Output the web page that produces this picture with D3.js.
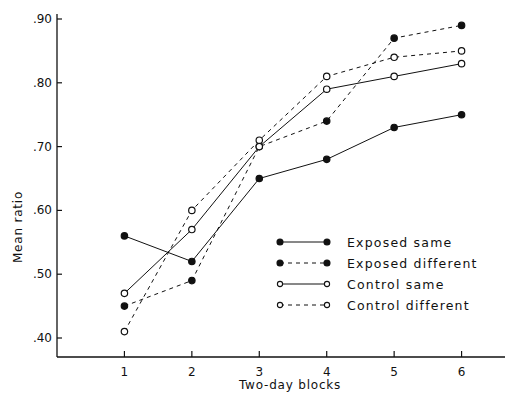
<!DOCTYPE html>
<head>
    <meta charset="utf-8">
    <title>Mean ratio by two-day blocks</title>
    <script src="https://d3js.org/d3.v7.min.js"></script>
    <style>
    body { margin: 0; background: #fff; }
    text { font-family: "DejaVu Sans", sans-serif; fill: #111; }
    </style>
</head>
<body>
<script>
var blocks = [1, 2, 3, 4, 5, 6];
var yTicks = [0.40, 0.50, 0.60, 0.70, 0.80, 0.90];
var exposedSame      = [0.56, 0.52, 0.65, 0.68, 0.73, 0.75];
var exposedDifferent = [0.45, 0.49, 0.70, 0.74, 0.87, 0.89];
var controlSame      = [0.47, 0.57, 0.70, 0.79, 0.81, 0.83];
var controlDifferent = [0.41, 0.60, 0.71, 0.81, 0.84, 0.85];
var seriesNames = ["Exposed same", "Exposed different", "Control same", "Control different"];

var series = [
    {name: seriesNames[0], values: exposedSame, filled: true, dashed: false},
    {name: seriesNames[1], values: exposedDifferent, filled: true, dashed: true},
    {name: seriesNames[2], values: controlSame, filled: false, dashed: false},
    {name: seriesNames[3], values: controlDifferent, filled: false, dashed: true}
];

var width = 505, height = 394;
var ink = "#111";

var svg = d3.select("body").append("svg")
    .attr("width", width)
    .attr("height", height);

var x = d3.scaleLinear().domain([0, 7]).range([57, 529]);
var y = d3.scaleLinear().domain([0.9, 0.4]).range([19, 338]);
var baseY = 357;

// axes lines
svg.append("line")
    .attr("x1", x(0)).attr("x2", width)
    .attr("y1", baseY).attr("y2", baseY)
    .attr("stroke", ink).attr("stroke-width", 1.3);
svg.append("line")
    .attr("x1", x(0)).attr("x2", x(0))
    .attr("y1", baseY).attr("y2", 14)
    .attr("stroke", ink).attr("stroke-width", 1.3);

// x ticks
var xt = svg.append("g").selectAll("g").data(blocks).enter().append("g");
xt.append("line")
    .attr("x1", function(d) { return x(d); }).attr("x2", function(d) { return x(d); })
    .attr("y1", baseY).attr("y2", baseY - 6)
    .attr("stroke", ink).attr("stroke-width", 1.2);
xt.append("text")
    .attr("x", function(d) { return x(d); })
    .attr("y", baseY + 19)
    .attr("text-anchor", "middle")
    .attr("font-size", 12)
    .text(function(d) { return d; });

// y ticks
var yt = svg.append("g").selectAll("g").data(yTicks).enter().append("g");
yt.append("line")
    .attr("x1", x(0)).attr("x2", x(0) + 5)
    .attr("y1", function(d) { return y(d); }).attr("y2", function(d) { return y(d); })
    .attr("stroke", ink).attr("stroke-width", 1.2);
yt.append("text")
    .attr("x", x(0) - 5)
    .attr("y", function(d) { return y(d) + 4; })
    .attr("text-anchor", "end")
    .attr("font-size", 12)
    .text(function(d) { return d3.format(".2f")(d).replace(/^0/, ""); });

// axis titles
svg.append("text")
    .attr("transform", "translate(22," + 227 + ") rotate(-90)")
    .attr("text-anchor", "middle")
    .attr("font-size", 12)
    .attr("letter-spacing", 0.8)
    .text("Mean ratio");
svg.append("text")
    .attr("x", 290).attr("y", 389)
    .attr("text-anchor", "middle")
    .attr("font-size", 12)
    .attr("letter-spacing", 0.8)
    .text("Two-day blocks");

// series
var line = d3.line()
    .x(function(d, i) { return x(blocks[i]); })
    .y(function(d) { return y(d); });

var sg = svg.append("g").selectAll("g").data(series).enter().append("g");
sg.append("path")
    .attr("d", function(s) { return line(s.values); })
    .attr("fill", "none")
    .attr("stroke", ink)
    .attr("stroke-width", 1)
    .attr("stroke-dasharray", function(s) { return s.dashed ? "4,4" : null; });
sg.selectAll("circle")
    .data(function(s) { return s.values.map(function(v, i) { return {v: v, i: i, s: s}; }); })
    .enter().append("circle")
    .attr("cx", function(d) { return x(blocks[d.i]); })
    .attr("cy", function(d) { return y(d.v); })
    .attr("r", 3.2)
    .attr("fill", function(d) { return d.s.filled ? ink : "#fff"; })
    .attr("stroke", ink)
    .attr("stroke-width", 1.2);

// legend
var leg = svg.append("g").selectAll("g").data(series).enter().append("g")
    .attr("transform", function(d, i) { return "translate(0," + (242 + i * 21) + ")"; });
leg.append("line")
    .attr("x1", 280).attr("x2", 327)
    .attr("stroke", ink).attr("stroke-width", 1)
    .attr("stroke-dasharray", function(s) { return s.dashed ? "4,4" : null; });
leg.selectAll("circle").data(function(s) { return [s, s]; }).enter().append("circle")
    .attr("cx", function(d, i) { return i ? 327 : 280; })
    .attr("cy", 0)
    .attr("r", function(d) { return d.filled ? 3 : 2.6; })
    .attr("fill", function(d) { return d.filled ? ink : "#fff"; })
    .attr("stroke", ink).attr("stroke-width", 1.1);
leg.append("text")
    .attr("x", 347).attr("y", 4.5)
    .attr("font-size", 12.5)
    .attr("letter-spacing", 1.2)
    .text(function(s) { return s.name; });
</script>
</body>
